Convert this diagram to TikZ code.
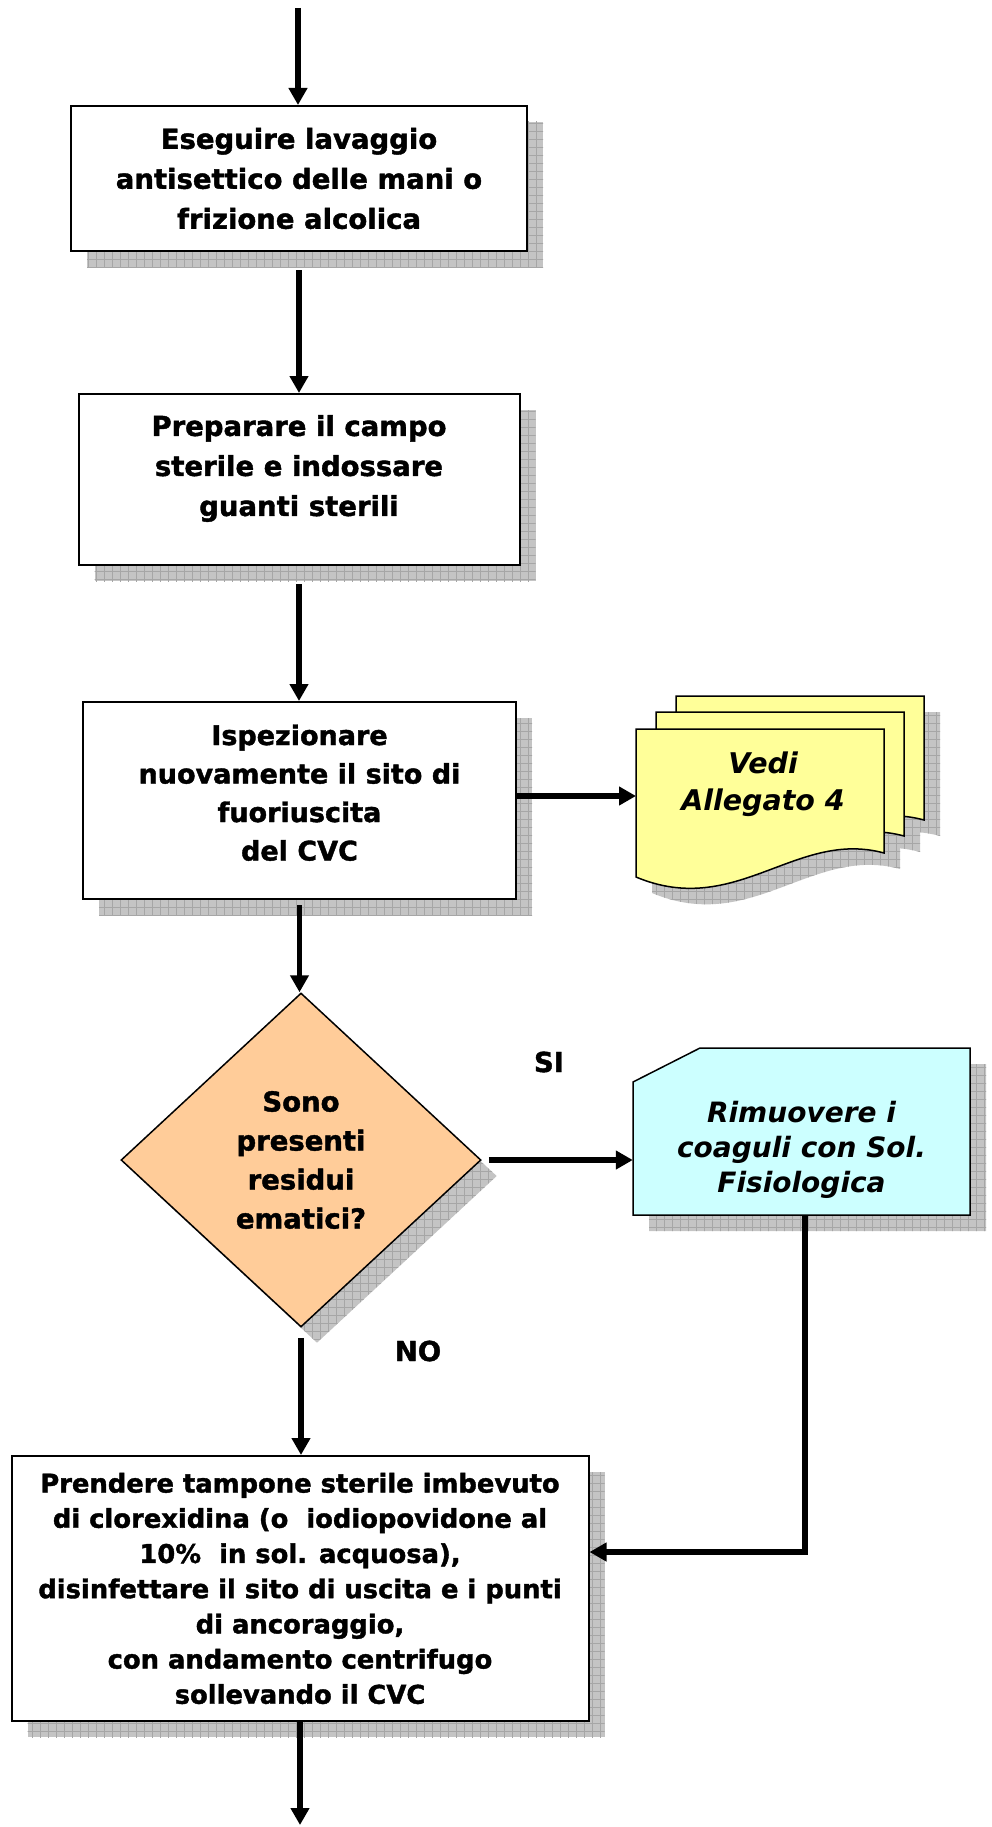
\documentclass[tikz,border=0pt]{standalone}
\usepackage{fontspec}
\setmainfont{DejaVu Sans}[BoldFeatures={FakeBold=1.5}]
\usetikzlibrary{arrows.meta,shapes.geometric,shadows,patterns.meta}
\definecolor{peach}{HTML}{FFCC99}
\definecolor{paleyellow}{HTML}{FFFF99}
\definecolor{palecyan}{HTML}{CCFFFF}
\definecolor{shadefill}{HTML}{C4C4C4}
\definecolor{shadeline}{HTML}{A6A6A6}
\newcommand{\pageoutline}{(0,0) -- (248,0) -- (248,124) .. controls (160,100) and (100,190) .. (0,148) -- cycle}

\begin{document}
\begin{tikzpicture}[x=1pt,y=-1pt,
  hatch/.style={fill=shadefill,postaction={pattern={Hatch[angle=0,distance=8pt,line width=0.6pt]},pattern color=shadeline}},
  hatched/.style={general shadow={shadow xshift=16pt,shadow yshift=-16pt,hatch}},
  stepbox/.style={draw,line width=2pt,fill=white,hatched,align=center,inner sep=0pt,
    font=\bfseries\fontsize{27.5}{40}\selectfont},
  decision/.style={diamond,draw,line width=1.5pt,fill=peach,hatched,align=center,inner sep=0pt,
    minimum width=360pt,minimum height=334pt,font=\bfseries\fontsize{27.5}{39}\selectfont},
  cardtext/.style={align=center,inner sep=0pt,font=\bfseries\itshape\fontsize{28}{35}\selectfont},
  docpage/.style={draw,line width=1.5pt,fill=paleyellow},
  flow/.style={line width=5.5pt,-{Triangle[length=17pt,width=18pt]}},
  answer/.style={font=\bfseries\fontsize{27.5}{30}\selectfont}]
\useasboundingbox (0,0) rectangle (991,1827);

% passi principali
\node[stepbox,minimum width=456pt,minimum height=145pt] (lavaggio) at (299,178.5)
  {Eseguire lavaggio\\antisettico delle mani o\\frizione alcolica};
\node[stepbox,minimum width=441pt,minimum height=171pt] (campo) at (299,479.5)
  {Preparare il campo\\sterile e indossare\\guanti sterili\rule[-28pt]{0pt}{28pt}};
\node[stepbox,minimum width=433pt,minimum height=197pt,font=\bfseries\fontsize{27}{38.5}\selectfont] (ispeziona) at (299.5,800.5)
  {Ispezionare\\nuovamente il sito di\\fuoriuscita\\del CVC\rule[-16pt]{0pt}{16pt}};
\node[decision] (residui) at (301,1160) {Sono\\presenti\\residui\\ematici?};

% scheda azzurra con angolo tagliato
\path[draw,line width=1.5pt,fill=palecyan,hatched] (700,1048) -- (970,1048) -- (970,1215) -- (633,1215) -- (633,1082) -- cycle;
\node[cardtext,minimum width=337pt,minimum height=167pt] (coaguli) at (801.5,1131.5)
  {\rule{0pt}{58pt}Rimuovere i\\coaguli con Sol.\\Fisiologica};

\node[stepbox,minimum width=577pt,minimum height=265pt,font=\bfseries\fontsize{25.8}{35.2}\selectfont] (tampone) at (300,1588.5)
  {Prendere tampone sterile imbevuto\\di clorexidina (o\ \ iodiopovidone al\\10\%\ \ in sol. acquosa),\\disinfettare il sito di uscita e i punti\\di ancoraggio,\\con andamento centrifugo\\sollevando il CVC};

% allegato (pila di fogli)
\foreach \px/\py in {676/696,656/712,636/729}
  {\begin{scope}[shift={(\px+16,\py+16)}] \path[hatch] \pageoutline; \end{scope}}
\foreach \px/\py in {676/696,656/712,636/729}
  {\begin{scope}[shift={(\px,\py)}] \draw[docpage] \pageoutline; \end{scope}}
\node[font=\bfseries\itshape\fontsize{28.5}{37}\selectfont,align=center] (allegato) at (763,784) {Vedi\\Allegato 4};

% frecce
\coordinate (inizio) at (298,8);
\coordinate (fine) at (300,1825);
\coordinate (allegatoin) at (636,796);
\coordinate (ritorno) at (805,1552);
\draw[flow] (inizio) -- (inizio |- lavaggio.north);
\draw[flow,shorten <=18pt] (lavaggio.south) -- (campo.north);
\draw[flow,shorten <=18pt] (campo.south) -- (campo.south |- ispeziona.north);
\draw[flow,shorten <=5pt] (ispeziona.south) -- (ispeziona.south |- residui.north);
\draw[flow] (ispeziona.east |- allegatoin) -- (allegatoin);
\draw[flow,shorten <=7pt] (residui.east) -- (residui.east -| coaguli.west);
\draw[flow,shorten <=10pt] (residui.south) -- (residui.south |- tampone.north);
\draw[flow] (ritorno |- coaguli.south) -- (ritorno) -- (ritorno -| tampone.east);
\draw[flow] (tampone.south) -- (fine);

\node[answer] (si) at (549,1062) {SI};
\node[answer] (no) at (418,1351) {NO};
\end{tikzpicture}
\end{document}
